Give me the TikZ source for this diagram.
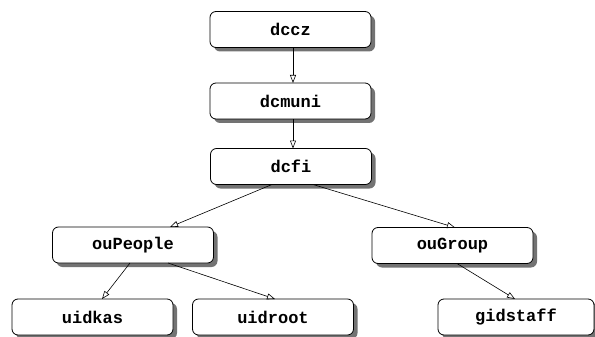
\documentclass[tikz,border=0pt]{standalone}
\usepackage{fontspec}
\newfontfamily\monofont{Liberation Mono}
\usetikzlibrary{arrows.meta,shadows,calc}
\tikzset{
  entry/.style={draw=black, line width=0.8pt, fill=white, rounded corners=6pt,
    minimum height=36pt, minimum width=161pt, inner sep=0pt, outer sep=0pt,
    font=\monofont\bfseries\fontsize{17}{17}\selectfont,
    drop shadow={shadow xshift=4pt, shadow yshift=-4pt, fill=black!55, opacity=1}},
  link/.style={draw=black, line width=0.6pt, -{Triangle[open,length=8pt,width=6pt]}}
}
\begin{document}
\begin{tikzpicture}[x=1pt,y=-1pt]
\useasboundingbox (0,0) rectangle (595,337);
\node[entry] (dccz) at (290.5,29.5) {dccz};
\node[entry] (dcmuni) at (290.5,101) {dcmuni};
\node[entry] (dcfi) at (291,166.5) {dcfi};
\node[entry] (ouPeople) at (133,245) {ouPeople};
\node[entry] (ouGroup) at (452.5,245.5) {ouGroup};
\node[entry] (uidkas) at (92.5,317) {uidkas};
\node[entry] (uidroot) at (273,317) {uidroot};
\node[entry, minimum width=156pt] (gidstaff) at (516,317) {gidstaff};
\draw[link] ($(dccz.south)+(2.5,0)$) -- ($(dcmuni.north)+(2.5,0)$);
\draw[link] ($(dcmuni.south)+(2.5,0)$) -- ($(dcfi.north)+(2,0)$);
\draw[link] ($(dcfi.south)+(-19,0)$) -- ($(ouPeople.north)+(37,0)$);
\draw[link] ($(dcfi.south)+(22,0)$) -- ($(ouGroup.north)+(2.5,0)$);
\draw[link] ($(ouPeople.south)+(-3,0)$) -- ($(uidkas.north)+(9.5,0)$);
\draw[link] ($(ouPeople.south)+(35,0)$) -- ($(uidroot.north)+(2,0)$);
\draw[link] ($(ouGroup.south)+(4.5,0)$) -- ($(gidstaff.north)+(-1,0)$);
\end{tikzpicture}
\end{document}
